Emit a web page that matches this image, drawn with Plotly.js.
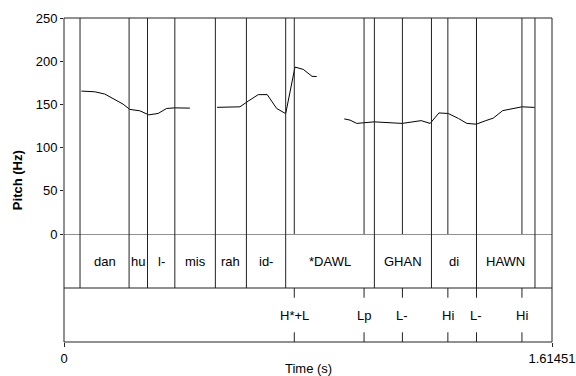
<!DOCTYPE html>
<html>
<head>
<meta charset="utf-8">
<script src="https://cdn.plot.ly/plotly-3.0.1.min.js"></script>
<style>
  html, body { margin: 0; padding: 0; background: #fff; }
  #chart { width: 576px; height: 376px; }
</style>
</head>
<body>
<div id="chart"></div>
<script>
// Pitch track (Hz) over time (s); null breaks the contour where voicing stops
const pitchTime = [
  0.0576, 0.1017, 0.1348, 0.1679, 0.1955, 0.2176, 0.2508, 0.2806, 0.3114, 0.3392, 0.3667, 0.4164,
  null,
  0.5065, 0.5820, 0.6095, 0.6426, 0.6724, 0.7036, 0.7334, 0.7642, 0.7917, 0.8205, 0.8361,
  null,
  0.9272, 0.9464, 0.9686, 1.0259, 1.1186, 1.1816, 1.2114, 1.2405, 1.2710, 1.3051, 1.3329,
  1.3638, 1.3936, 1.4201, 1.4515, 1.4820, 1.5151, 1.5569
];
const pitchHz = [
  165.4, 164.6, 162.0, 155.8, 150.3, 144.2, 142.6, 137.9, 139.5, 145.3, 146.0, 145.7,
  null,
  146.6, 147.2, 153.8, 161.3, 161.3, 145.3, 139.3, 193.2, 190.5, 182.5, 182.2,
  null,
  133.2, 131.8, 128.0, 129.8, 128.0, 131.2, 128.0, 140.1, 139.5, 133.7, 128.0,
  127.1, 131.0, 134.1, 142.8, 145.3, 147.2, 146.5
];

// Word tier: interval boundaries (s) and the label of each interval between them
const wordBounds = [0.0530, 0.2153, 0.2763, 0.3667, 0.5008, 0.6035, 0.7334, 1.0269, 1.2157, 1.3647, 1.5582];
const words = ["dan", "hu", "l-", "mis", "rah", "id-", "*DAWL", "GHAN", "di", "HAWN"];

// Tone tier: point events (s) and labels
const toneTimes = [0.7619, 0.9927, 1.1196, 1.2700, 1.3647, 1.5151];
const tones = ["H*+L", "Lp", "L-", "Hi", "L-", "Hi"];

const totalDur = 1.61451;
const yTicks = [0, 50, 100, 150, 200, 250];

const FONT = "Liberation Sans, Arial, Helvetica, sans-serif";
const lineCol = "#222";
const shapes = [];
const annotations = [];

// outer frame and tier separators
shapes.push({type: "rect", xref: "paper", yref: "paper", x0: 0, x1: 1, y0: 0, y1: 1,
  line: {color: lineCol, width: 1}});
shapes.push({type: "line", xref: "paper", yref: "y2", x0: 0, x1: 1, y0: 2, y1: 2,
  line: {color: lineCol, width: 1}});
shapes.push({type: "line", xref: "paper", yref: "y2", x0: 0, x1: 1, y0: 1, y1: 1,
  line: {color: lineCol, width: 1}});

// word boundaries: through the pitch panel and the word tier
wordBounds.forEach(t => {
  shapes.push({type: "line", xref: "x", yref: "y", x0: t, x1: t, y0: 0, y1: 250,
    line: {color: lineCol, width: 1}});
  shapes.push({type: "line", xref: "x", yref: "y2", x0: t, x1: t, y0: 1, y1: 2,
    line: {color: lineCol, width: 1}});
});
for (let i = 0; i < words.length; i++) {
  annotations.push({xref: "x", yref: "y2", x: (wordBounds[i] + wordBounds[i + 1]) / 2, y: 1.5,
    text: words[i], showarrow: false, xanchor: "center", yanchor: "middle",
    font: {family: FONT, size: 13, color: "#000"}});
}

// tone events: line through the pitch panel, short ticks in the tone tier
toneTimes.forEach((t, i) => {
  shapes.push({type: "line", xref: "x", yref: "y", x0: t, x1: t, y0: 0, y1: 250,
    line: {color: lineCol, width: 1}});
  shapes.push({type: "line", xref: "x", yref: "y2", x0: t, x1: t, y0: 1, y1: 0.82,
    line: {color: lineCol, width: 1}});
  shapes.push({type: "line", xref: "x", yref: "y2", x0: t, x1: t, y0: 0, y1: 0.18,
    line: {color: lineCol, width: 1}});
  annotations.push({xref: "x", yref: "y2", x: t, y: 0.5, text: tones[i], showarrow: false,
    xanchor: "center", yanchor: "middle", font: {family: FONT, size: 13, color: "#000"}});
});

// axis titles
annotations.push({xref: "paper", yref: "paper", x: -0.096, y: 0.5, text: "<b>Pitch (Hz)</b>",
  textangle: -90, showarrow: false, xanchor: "center", yanchor: "middle",
  font: {family: FONT, size: 13, color: "#000"}});
annotations.push({xref: "paper", yref: "paper", x: 0.5, y: -0.083, text: "Time (s)",
  showarrow: false, xanchor: "center", yanchor: "middle",
  font: {family: FONT, size: 13, color: "#000"}});

const trace = {
  x: pitchTime, y: pitchHz, xaxis: "x", yaxis: "y",
  type: "scatter", mode: "lines", connectgaps: false,
  line: {color: "#000", width: 1}, hoverinfo: "skip"
};

const layout = {
  width: 576, height: 376,
  margin: {l: 64, r: 24, t: 18, b: 34, pad: 0},
  paper_bgcolor: "#fff", plot_bgcolor: "#fff",
  showlegend: false,
  font: {family: FONT, size: 13, color: "#000"},
  xaxis: {
    range: [0, totalDur], anchor: "y2", domain: [0, 1],
    tickvals: [0, totalDur], ticktext: ["0", "1.61451"],
    ticks: "outside", ticklen: 4, tickcolor: lineCol,
    showgrid: false, zeroline: false, showline: false,
    tickfont: {family: FONT, size: 13, color: "#000"}
  },
  yaxis: {
    domain: [1 / 3, 1], range: [0, 250], anchor: "x",
    tickvals: yTicks, ticks: "outside", ticklen: 3, tickcolor: lineCol,
    showgrid: false, zeroline: false, showline: false,
    tickfont: {family: FONT, size: 13, color: "#000"}
  },
  yaxis2: {
    domain: [0, 1 / 3], range: [0, 2], anchor: "x",
    showticklabels: false, ticks: "", showgrid: false, zeroline: false, showline: false
  },
  shapes: shapes,
  annotations: annotations
};

Plotly.newPlot("chart", [trace], layout, {staticPlot: true, displayModeBar: false});
</script>
</body>
</html>
